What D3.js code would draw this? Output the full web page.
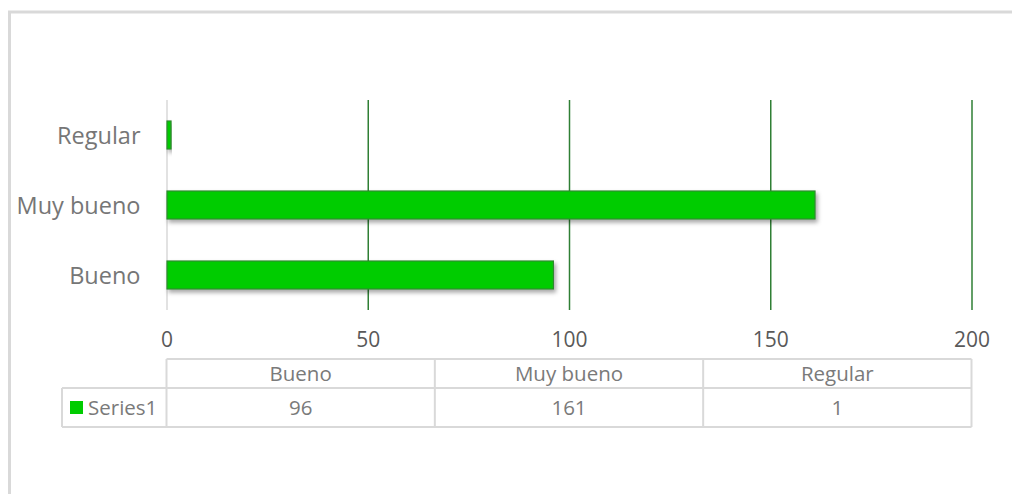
<!DOCTYPE html>
<html>
<head>
<meta charset="utf-8">
<script src="https://cdn.jsdelivr.net/npm/d3@7"></script>
<style>
  body { margin: 0; background: #fff; }
  text { font-family: "Open Sans", sans-serif; }
</style>
</head>
<body>
<script>
const svgWidth = 1012
const svgHeight = 494

// data
const categories = ["Bueno", "Muy bueno", "Regular"]
const series1 = [96, 161, 1]
const seriesName = "Series1"
const xTicks = [0, 50, 100, 150, 200]

const plot = { left: 166.5, right: 971.5, top: 100, bottom: 310 }
const table = { top: 359, mid: 388, bottom: 427, legendLeft: 62 }

const data = categories.map((c, i) => ({ cat: c, value: series1[i] }))

const svg = d3.select("body").append("svg")
  .attr("width", svgWidth)
  .attr("height", svgHeight)

const defs = svg.append("defs")
const shadow = defs.append("filter")
  .attr("id", "shadow")
  .attr("x", "-10%").attr("y", "-30%")
  .attr("width", "130%").attr("height", "190%")
shadow.append("feDropShadow")
  .attr("dx", 2).attr("dy", 3)
  .attr("stdDeviation", 2.2)
  .attr("flood-color", "#000")
  .attr("flood-opacity", 0.35)

// outer chart border
svg.append("rect")
  .attr("x", 9.5).attr("y", 12)
  .attr("width", 1100).attr("height", 600)
  .attr("fill", "none")
  .attr("stroke", "#d9d9d9")
  .attr("stroke-width", 3)

const x = d3.scaleLinear()
  .domain([0, 200])
  .range([plot.left, plot.right])

const y = d3.scaleBand()
  .domain(categories.slice().reverse())
  .range([plot.top, plot.bottom])
  .paddingInner(0.6)
  .paddingOuter(0.3)

// vertical gridlines
const grid = svg.append("g")
  .attr("transform", `translate(0, ${plot.bottom})`)
  .call(d3.axisBottom(x).tickValues(xTicks).tickSize(-(plot.bottom - plot.top)).tickFormat(""))
grid.select(".domain").remove()
grid.selectAll(".tick line")
  .attr("stroke", d => d === 0 ? "#d9d9d9" : "#2f7f34")
  .attr("stroke-width", 1.5)

// tick labels
const xAxis = svg.append("g")
  .attr("transform", `translate(0, ${plot.bottom})`)
  .call(d3.axisBottom(x).tickValues(xTicks).tickSize(0).tickPadding(22))
xAxis.select(".domain").remove()
xAxis.selectAll("text")
  .attr("fill", "#595959")
  .style("font-size", "21px")

// category labels
const yAxis = svg.append("g")
  .attr("transform", `translate(${plot.left}, 0)`)
  .call(d3.axisLeft(y).tickSize(0).tickPadding(26))
yAxis.select(".domain").remove()
yAxis.selectAll("text")
  .attr("fill", "#767676")
  .attr("dy", "0.4em")
  .style("font-size", "23.5px")

// bars
svg.append("g").selectAll("rect")
  .data(data)
  .enter()
  .append("rect")
  .attr("x", x(0) + 0.5)
  .attr("y", d => y(d.cat))
  .attr("width", d => x(d.value) - x(0))
  .attr("height", y.bandwidth())
  .attr("fill", "#00cc00")
  .attr("stroke", "#2f8a2f")
  .attr("stroke-width", 1.2)
  .attr("filter", "url(#shadow)")

// data table
const tbl = svg.append("g")
const lineColor = "#d9d9d9"
const colEdges = categories.map((c, i) => x(i * 200 / categories.length))
colEdges.push(x(200))

const hline = (x1, x2, yy) => tbl.append("line")
  .attr("x1", x1).attr("x2", x2).attr("y1", yy).attr("y2", yy)
  .attr("stroke", lineColor).attr("stroke-width", 2)
const vline = (xx, y1, y2) => tbl.append("line")
  .attr("x1", xx).attr("x2", xx).attr("y1", y1).attr("y2", y2)
  .attr("stroke", lineColor).attr("stroke-width", 2)

hline(x(0), x(200), table.top)
hline(table.legendLeft, x(200), table.mid)
hline(table.legendLeft, x(200), table.bottom)
colEdges.forEach(cx => vline(cx, table.top, table.bottom))
vline(table.legendLeft, table.mid, table.bottom)

categories.forEach((c, i) => {
  const cx = (colEdges[i] + colEdges[i + 1]) / 2
  tbl.append("text")
    .attr("x", cx).attr("y", (table.top + table.mid) / 2)
    .attr("dy", "0.37em")
    .attr("text-anchor", "middle")
    .attr("fill", "#7a7a7a")
    .style("font-size", "20.5px")
    .text(c)
  tbl.append("text")
    .attr("x", cx).attr("y", (table.mid + table.bottom) / 2)
    .attr("dy", "0.37em")
    .attr("text-anchor", "middle")
    .attr("fill", "#7a7a7a")
    .style("font-size", "20.5px")
    .text(series1[i])
})

// legend key in the table
tbl.append("rect")
  .attr("x", 70).attr("y", 401)
  .attr("width", 13).attr("height", 13)
  .attr("fill", "#00cc00")
tbl.append("text")
  .attr("x", 88).attr("y", (table.mid + table.bottom) / 2)
  .attr("dy", "0.37em")
  .attr("fill", "#7a7a7a")
  .style("font-size", "20.5px")
  .text(seriesName)
</script>
</body>
</html>
